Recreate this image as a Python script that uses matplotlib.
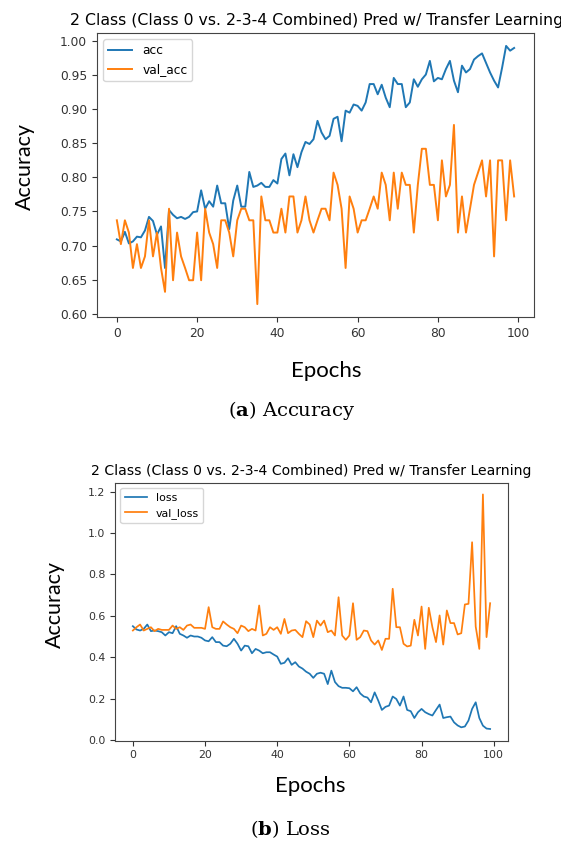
import matplotlib
matplotlib.use("Agg")
import matplotlib.pyplot as plt
import numpy as np

# training history (100 epochs)
acc = [0.709, 0.706, 0.720, 0.703, 0.706, 0.713, 0.712, 0.722, 0.742, 0.736,
       0.716, 0.728, 0.667, 0.752, 0.745, 0.740, 0.742, 0.739, 0.742, 0.749,
       0.750, 0.781, 0.754, 0.765, 0.757, 0.788, 0.762, 0.762, 0.724, 0.766,
       0.788, 0.757, 0.757, 0.808, 0.786, 0.788, 0.792, 0.786, 0.786, 0.796,
       0.791, 0.827, 0.835, 0.803, 0.834, 0.815, 0.837, 0.852, 0.849, 0.856,
       0.883, 0.866, 0.856, 0.861, 0.886, 0.889, 0.853, 0.898, 0.895, 0.907,
       0.905, 0.898, 0.910, 0.937, 0.937, 0.922, 0.936, 0.917, 0.903, 0.946,
       0.937, 0.937, 0.903, 0.910, 0.944, 0.933, 0.944, 0.951, 0.971, 0.941,
       0.946, 0.944, 0.959, 0.971, 0.942, 0.925, 0.964, 0.954, 0.959, 0.973,
       0.978, 0.982, 0.968, 0.954, 0.942, 0.932, 0.961, 0.993, 0.986, 0.990]

val_acc = [0.737, 0.702, 0.737, 0.719, 0.667, 0.702, 0.667, 0.684, 0.737, 0.684,
           0.719, 0.667, 0.632, 0.754, 0.649, 0.719, 0.684, 0.667, 0.649, 0.649,
           0.719, 0.649, 0.754, 0.719, 0.702, 0.667, 0.737, 0.737, 0.719, 0.684,
           0.737, 0.754, 0.754, 0.737, 0.737, 0.614, 0.772, 0.737, 0.737, 0.719,
           0.719, 0.754, 0.719, 0.772, 0.772, 0.719, 0.737, 0.772, 0.737, 0.719,
           0.737, 0.754, 0.754, 0.737, 0.807, 0.789, 0.754, 0.667, 0.772, 0.754,
           0.719, 0.737, 0.737, 0.754, 0.772, 0.754, 0.807, 0.789, 0.737, 0.807,
           0.754, 0.807, 0.789, 0.789, 0.719, 0.789, 0.842, 0.842, 0.789, 0.789,
           0.737, 0.825, 0.772, 0.789, 0.877, 0.719, 0.772, 0.719, 0.754, 0.789,
           0.807, 0.825, 0.772, 0.825, 0.684, 0.825, 0.825, 0.737, 0.825, 0.772]

loss = [0.550, 0.534, 0.529, 0.537, 0.558, 0.526, 0.529, 0.526, 0.521, 0.505,
        0.521, 0.516, 0.550, 0.513, 0.505, 0.494, 0.505, 0.500, 0.500, 0.494,
        0.481, 0.477, 0.497, 0.473, 0.473, 0.456, 0.453, 0.465, 0.489, 0.465,
        0.432, 0.456, 0.453, 0.419, 0.440, 0.432, 0.419, 0.424, 0.424, 0.413,
        0.403, 0.368, 0.373, 0.395, 0.363, 0.376, 0.355, 0.345, 0.330, 0.320,
        0.300, 0.320, 0.325, 0.320, 0.270, 0.335, 0.280, 0.260, 0.252, 0.252,
        0.250, 0.235, 0.255, 0.225, 0.210, 0.205, 0.182, 0.230, 0.190, 0.145,
        0.160, 0.166, 0.210, 0.198, 0.166, 0.210, 0.145, 0.139, 0.106, 0.134,
        0.150, 0.134, 0.125, 0.118, 0.145, 0.171, 0.106, 0.110, 0.113, 0.085,
        0.070, 0.061, 0.065, 0.094, 0.150, 0.182, 0.106, 0.069, 0.055, 0.053]

val_loss = [0.529, 0.545, 0.558, 0.529, 0.537, 0.545, 0.526, 0.537, 0.532, 0.532,
            0.532, 0.553, 0.537, 0.545, 0.532, 0.553, 0.558, 0.542, 0.542, 0.542,
            0.537, 0.642, 0.545, 0.537, 0.537, 0.573, 0.558, 0.545, 0.537, 0.516,
            0.553, 0.545, 0.526, 0.537, 0.529, 0.650, 0.505, 0.513, 0.545, 0.532,
            0.545, 0.513, 0.585, 0.516, 0.529, 0.532, 0.513, 0.497, 0.574, 0.558,
            0.497, 0.577, 0.553, 0.577, 0.521, 0.529, 0.505, 0.690, 0.505, 0.484,
            0.505, 0.661, 0.484, 0.497, 0.529, 0.526, 0.481, 0.461, 0.481, 0.435,
            0.489, 0.489, 0.731, 0.545, 0.545, 0.465, 0.452, 0.456, 0.581, 0.505,
            0.645, 0.440, 0.639, 0.545, 0.473, 0.602, 0.461, 0.626, 0.565, 0.565,
            0.510, 0.516, 0.655, 0.658, 0.956, 0.548, 0.440, 1.187, 0.497, 0.661]

epochs = np.arange(len(acc))
title = "2 Class (Class 0 vs. 2-3-4 Combined) Pred w/ Transfer Learning"

W, H = 561, 844
fig = plt.figure(figsize=(W / 100, H / 100), dpi=100)
plt.rcParams['mathtext.fontset'] = 'dejavuserif'

def px(x, y):
    # pixel position (from top-left) -> figure fraction
    return x / W, 1 - y / H

# (a) accuracy
ax1 = fig.add_axes([97 / W, 1 - 317 / H, 437 / W, 284 / H])
ax1.plot(epochs, acc, color='#1f77b4', lw=1.4, label='acc')
ax1.plot(epochs, val_acc, color='#ff7f0e', lw=1.4, label='val_acc')
ax1.set_yticks(np.arange(0.60, 1.001, 0.05))
ax1.tick_params(labelsize=8.8, colors='#333333')
ax1.legend(loc='upper left', fontsize=8.8)
fig.text(*px(316, 20), title, ha='center', va='center', fontsize=11.3)

# (b) loss
ax2 = fig.add_axes([115 / W, 1 - 740.7 / H, 393 / W, 258 / H])
ax2.plot(epochs, loss, color='#1f77b4', lw=1.25, label='loss')
ax2.plot(epochs, val_loss, color='#ff7f0e', lw=1.25, label='val_loss')
ax2.tick_params(labelsize=7.9, colors='#333333')
ax2.legend(loc='upper left', fontsize=7.9)
fig.text(*px(311, 470.7), title, ha='center', va='center', fontsize=10.1)

for ax in (ax1, ax2):
    for s in ax.spines.values():
        s.set_color('#444444')

# labels and captions added on top of the screenshots
fig.text(*px(25, 166), 'Accuracy', rotation=90, ha='center', va='center',
         family='Lato', fontsize=15.5)
fig.text(*px(55, 604), 'Accuracy', rotation=90, ha='center', va='center',
         family='Lato', fontsize=15.5)
fig.text(*px(326, 371), 'Epochs', ha='center', va='center',
         family='Lato', fontsize=16)
fig.text(*px(310, 786), 'Epochs', ha='center', va='center',
         family='Lato', fontsize=16)
fig.text(*px(292, 411), r'($\mathbf{a}$) Accuracy', ha='center', va='center',
         family='DejaVu Serif', fontsize=14)
fig.text(*px(290, 829), r'($\mathbf{b}$) Loss', ha='center', va='center',
         family='DejaVu Serif', fontsize=14)

fig.savefig('out.png', dpi=100)
